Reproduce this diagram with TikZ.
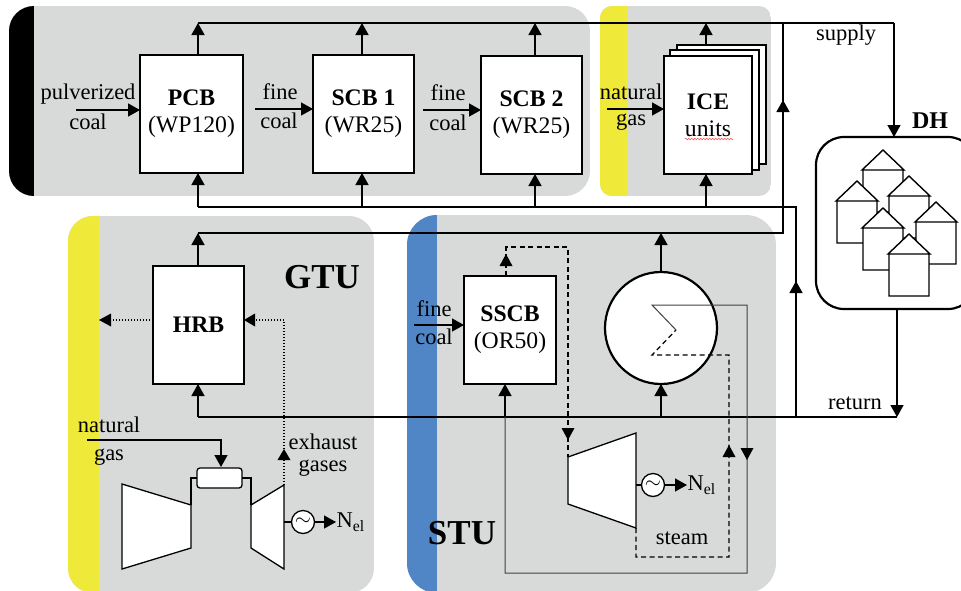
\documentclass[tikz,border=0pt]{standalone}
\usepackage{fontspec}
\setmainfont{Liberation Serif}
\usetikzlibrary{arrows.meta,decorations.pathmorphing}
\definecolor{panelgray}{HTML}{D8DADA}
\definecolor{stripyellow}{HTML}{EFE93A}
\definecolor{stripblue}{HTML}{5085C6}
\begin{document}
\begin{tikzpicture}[x=1pt,y=-1pt,line width=1.3pt,>={Triangle[length=12pt,width=13pt]}]
\tikzstyle{unitbox}=[draw,fill=white,line width=2.2pt,outer sep=0pt,inner sep=0pt,align=center,font=\fontsize{23.7}{27}\selectfont]
\tikzstyle{label}=[inner sep=0pt,font=\fontsize{22.5}{24}\selectfont]
\tikzstyle{biglabel}=[inner sep=0pt,font=\fontsize{35}{38}\selectfont\bfseries]
\tikzstyle{gen}=[draw,circle,fill=white,line width=1.3pt,minimum size=23pt,inner sep=0pt,outer sep=0pt,font=\fontsize{22}{24}\selectfont]
\tikzstyle{flow}=[->,line width=1.4pt]
\tikzstyle{thin}=[line width=1pt,draw=black!75]
\tikzstyle{steam}=[line width=1.3pt,dash pattern=on 5pt off 3.5pt]
\tikzstyle{exhaust}=[line width=1.3pt,dash pattern=on 1.5pt off 1.5pt]
\tikzstyle{machine}=[draw,fill=white,line width=1.3pt,line join=miter]
\useasboundingbox (0,0) rectangle (961,590);

\begin{scope}
\clip[rounded corners=25pt] (9,6) rectangle (590,196);
\fill[panelgray] (9,6) rectangle (590,196);
\fill[black] (9,6) rectangle (34,196);
\end{scope}
\begin{scope}
\clip[rounded corners=12pt] (600,6) rectangle (771,196);
\fill[panelgray] (600,6) rectangle (771,196);
\fill[stripyellow] (600,6) rectangle (628,196);
\end{scope}
\begin{scope}
\clip[rounded corners=25pt] (68,216) rectangle (374,593);
\fill[panelgray] (68,216) rectangle (374,593);
\fill[stripyellow] (68,216) rectangle (99,593);
\end{scope}
\begin{scope}
\clip[rounded corners=30pt] (407,215) rectangle (776,593);
\fill[panelgray] (407,215) rectangle (776,593);
\fill[stripblue] (407,215) rectangle (437,593);
\end{scope}

\node (pcb) [unitbox,minimum width=103pt,minimum height=118pt] at (191.5,114) {\textbf{PCB}\\(WP120)};
\node (scb1) [unitbox,minimum width=101pt,minimum height=118pt] at (363.5,114) {\textbf{SCB 1}\\(WR25)};
\node (scb2) [unitbox,minimum width=101pt,minimum height=118pt] at (531.5,115) {\textbf{SCB 2}\\(WR25)};
\node (ice3) [unitbox,minimum width=89pt,minimum height=119pt] at (721.5,104.5) {};
\node (ice2) [unitbox,minimum width=89pt,minimum height=120pt] at (714.5,110) {};
\node (ice) [unitbox,minimum width=88pt,minimum height=118pt] at (708,115) {\textbf{ICE}\\units};
\node (hrb) [unitbox,minimum width=91pt,minimum height=118pt] at (198.5,325) {\textbf{HRB}};
\node (sscb) [unitbox,minimum width=92pt,minimum height=108pt] at (510,330) {\textbf{SSCB}\\(OR50)};
\node (boiler) [draw,circle,fill=white,line width=2.2pt,minimum size=112pt,inner sep=0pt,outer sep=0pt] at (661,328) {};
\node (dh) [draw,fill=white,line width=2.2pt,rounded corners=28pt,minimum width=160pt,minimum height=172pt,inner sep=0pt,outer sep=0pt] at (896,223) {};
\draw[red!70,line width=0.5pt,decorate,decoration={zigzag,segment length=3pt,amplitude=0.8pt}] (685,139) -- (733,139);

\foreach \hx/\hy in {883/150,909/176,857/181,936/202,883/208,909/234}
\draw[fill=white,line width=1.4pt] (\hx-20,\hy+20) rectangle (\hx+20,\hy+62) (\hx-21,\hy+20) -- (\hx,\hy) -- (\hx+21,\hy+20) -- cycle;

\node (pulverized) [label] at (88,94) {pulverized};
\node (pcoal) [label] at (88,122) {coal};
\node (fine1) [label] at (280,92) {fine};
\node (coal1) [label] at (279,121) {coal};
\node (fine2) [label] at (448,93) {fine};
\node (coal2) [label] at (448,123) {coal};
\node (natural1) [label] at (631,92) {natural};
\node (gas1) [label] at (631,122) {gas};
\node (supply) [label] at (846,35) {supply};
\node (return) [label] at (855,403) {return};
\node (dhlabel) [inner sep=0pt,font=\fontsize{24}{26}\selectfont\bfseries] at (930,121) {DH};
\node (gtu) [biglabel] at (322,277) {GTU};
\node (stu) [biglabel] at (462,533) {STU};
\node (natural2) [label] at (109,425) {natural};
\node (gas2) [label] at (109,457) {gas};
\node (exhaust) [label] at (323,442) {exhaust};
\node (gases) [label] at (323,468) {gases};
\node (fine3) [label] at (434,309) {fine};
\node (coal3) [label] at (434,337) {coal};
\node (steam) [label] at (682,538) {steam};

\coordinate (pin) at (76,110);
\coordinate (fin1) at (255,109);
\coordinate (fin2) at (423,110);
\coordinate (gin1) at (607,109);
\coordinate (fin3) at (414,325);
\coordinate (gin2) at (87,440);
\draw[flow] (pin) -- (pin -| pcb.west);
\draw[flow] (fin1) -- (fin1 -| scb1.west);
\draw[flow] (fin2) -- (fin2 -| scb2.west);
\draw[flow] (gin1) -- (gin1 -| ice.west);
\draw[flow] (fin3) -- (fin3 -| sscb.west);

\coordinate (sup0) at (198,23);
\coordinate (sup1) at (362,23);
\coordinate (sup2) at (535,23);
\coordinate (sup3) at (706,23);
\coordinate (sup4) at (894,23);
\coordinate (gtusup) at (198,233);
\coordinate (stusup) at (661,233);
\coordinate (sup5) at (783,233);
\coordinate (ret0) at (198,207);
\coordinate (ret1) at (362,207);
\coordinate (ret2) at (535,207);
\coordinate (ret3) at (706,207);
\coordinate (ret4) at (796,207);
\coordinate (ret5) at (198,417);
\coordinate (ret6) at (661,417);
\coordinate (ret7) at (796,417);
\coordinate (ret8) at (897,417);
\coordinate (ret9) at (796,281);
\coordinate (sup6) at (783,100);

\draw[flow] (sup0 |- pcb.north) -- (sup0);
\draw[flow] (sup1 |- scb1.north) -- (sup1);
\draw[flow] (sup2 |- scb2.north) -- (sup2);
\draw[flow] (sup3 |- ice3.north) -- (sup3);
\draw[line width=1.4pt] (sup0) -- (sup4);
\draw[flow] (sup4) -- (sup4 |- dh.north);
\draw[flow] (ret0) -- (ret0 |- pcb.south);
\draw[flow] (ret1) -- (ret1 |- scb1.south);
\draw[flow] (ret2) -- (ret2 |- scb2.south);
\draw[flow] (ret3) -- (ret3 |- ice.south);
\draw[line width=1.4pt] (ret0) -- (ret4) -- (ret7);
\draw[flow] (ret7) -- (ret9);
\draw[flow] (gtusup |- hrb.north) -- (gtusup);
\draw[flow] (boiler.north) -- (stusup);
\draw[line width=1.4pt] (gtusup) -- (sup5) -- (sup5 |- sup0);
\draw[flow] (sup5) -- (sup6);
\draw[flow] (ret5) -- (ret5 |- hrb.south);
\draw[flow] (ret6) -- (boiler.south);
\draw[line width=1.4pt] (ret5) -- (ret8);
\draw[flow] (ret8 |- dh.south) -- (ret8);

\coordinate (hrbout) at (99,320);
\coordinate (hrbin) at (284,320);
\draw[exhaust] (hrbout -| hrb.west) -- (hrbout);
\fill (hrbout) -- (111,313.5) -- (111,326.5) -- cycle;
\node (comb) [draw,fill=white,rounded corners=3pt,line width=1.3pt,minimum width=45pt,minimum height=20pt,inner sep=0pt,outer sep=0pt] at (219.5,478) {};
\draw[machine] (122,484) -- (191,505) -- (191,548) -- (122,569) -- cycle;
\draw[machine] (284,485) -- (251,505) -- (251,548) -- (284,569) -- cycle;
\draw (191,505) -- (191,478) -- (comb.west);
\draw (251,505) -- (251,478) -- (comb.east);
\draw[flow] (gin2) -- (221,440) -- (221,467);
\draw[exhaust] (284,485) -- (hrbin) -- (hrbin -| hrb.east);
\fill (284,449) -- (277.5,460) -- (290.5,460) -- cycle;
\fill (hrbin -| hrb.east) -- ++(11,-6.5) -- ++(0,13) -- cycle;
\node (gen1) [gen] at (303,522) {$\sim$};
\node (nel1) [anchor=west,label] at (336,522) {N\textsubscript{el}};
\draw (284,522) -- (gen1);
\draw[flow] (gen1) -- (nel1);

\draw[machine] (568,457) -- (636,433) -- (636,528) -- (568,504) -- cycle;
\node (gen2) [gen] at (653,485) {$\sim$};
\node (nel2) [anchor=west,label] at (687,485) {N\textsubscript{el}};
\draw (636,485) -- (gen2);
\draw[flow] (gen2) -- (nel2);

\coordinate (coilin) at (652,355);
\coordinate (coilmid) at (676,330);
\coordinate (coilout) at (652,305);
\coordinate (sscbret) at (505,417);
\draw[steam] (506,276) -- (506,247) -- (568,247) -- (568,457);
\fill (506,254) -- (499.5,266) -- (512.5,266) -- cycle;
\fill (568,440) -- (561.5,428) -- (574.5,428) -- cycle;
\draw[steam] (636,528) -- (636,557) -- (729,557) -- (729,355) -- (coilin) -- (coilmid);
\fill (729,445) -- (722.5,457) -- (735.5,457) -- cycle;
\draw[thin] (coilmid) -- (coilout) -- (747,305) -- (747,573) -- (505,573) -- (sscbret);
\draw[flow,line width=1.3pt] (sscbret) -- (sscbret |- sscb.south);
\fill (747,460) -- (740.5,448) -- (753.5,448) -- cycle;
\end{tikzpicture}
\end{document}
